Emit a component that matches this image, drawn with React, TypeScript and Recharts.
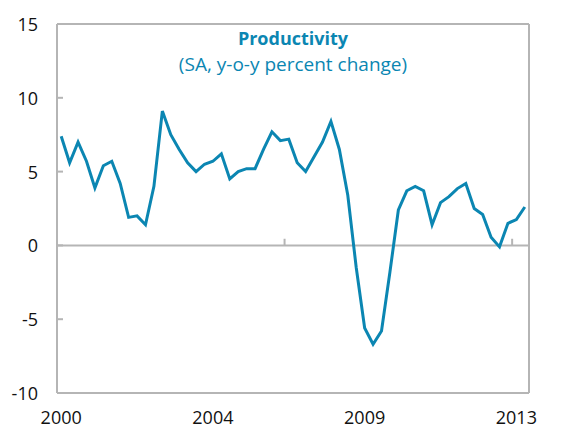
import React from 'react';
import { LineChart, Line, XAxis, YAxis, ReferenceLine } from 'recharts';

const years = [2000, 2001, 2002, 2003, 2004, 2005, 2006, 2007, 2008, 2009, 2010, 2011, 2012, 2013];
const quarters = years.flatMap((y) => [1, 2, 3, 4].map((q) => `${y}Q${q}`));

// SA, y-o-y percent change, 2000Q1..2013Q4
const productivity = [
  7.4, 5.6, 7.0, 5.7, 3.9, 5.4, 5.7, 4.2, 1.9, 2.0, 1.4, 4.0, 9.1, 7.5,
  6.5, 5.6, 5.0, 5.5, 5.7, 6.2, 4.5, 5.0, 5.2, 5.2, 6.5, 7.7, 7.1, 7.2,
  5.6, 5.0, 6.0, 7.0, 8.4, 6.5, 3.4, -1.5, -5.6, -6.7, -5.8, -1.8, 2.4, 3.7,
  4.0, 3.7, 1.4, 2.9, 3.3, 3.85, 4.2, 2.5, 2.1, 0.55, -0.1, 1.5, 1.75, 2.6,
];

const xTicks = ['2000Q1', '2004Q3', '2009Q1', '2013Q3'];
const yTicks = [-10, -5, 0, 5, 10, 15];
const zeroLineTicks = [27, 54]; // category boundaries marked on the zero line

const data = quarters.map((q, i) => ({ q, slot: i, value: productivity[i] }));

const BLUE = '#0b86b2';
const GRID = '#b5b5b5';
const FONT = '"Open Sans", "Noto Sans", sans-serif';

const LeftTick = (props: any) => {
  const { x, y, payload } = props;
  const axisX = x + 19;
  return (
    <g>
      <line x1={axisX} x2={axisX + 6} y1={y} y2={y} stroke={GRID} strokeWidth={2} />
      <text x={x} y={y} textAnchor="end" dominantBaseline="central" fontSize={18} fill="#111" fontFamily={FONT}>
        {payload.value}
      </text>
    </g>
  );
};

const RightTick = (props: any) => {
  const { x, y, payload } = props;
  const axisX = x - 20;
  return (
    <g>
      <line x1={axisX} x2={axisX - 6} y1={y} y2={y} stroke={GRID} strokeWidth={2} />
      <text x={x} y={y} textAnchor="start" dominantBaseline="central" fontSize={18} fill="#111" fontFamily={FONT}>
        {payload.value}
      </text>
    </g>
  );
};

const YearTick = (props: any) => {
  const { x, y, payload } = props;
  return (
    <text x={x} y={y + 16} textAnchor="middle" dominantBaseline="central" fontSize={18} fill="#111" fontFamily={FONT}>
      {String(payload.value).slice(0, 4)}
    </text>
  );
};

export default function App() {
  return (
    <div style={{ position: 'relative', width: 581, height: 430, marginTop: -8, marginLeft: -8, background: '#fff' }}>
      <LineChart
        width={581}
        height={430}
        data={data}
        margin={{ top: 24, right: 0, bottom: 0, left: 0 }}
      >
        <XAxis
          dataKey="q"
          ticks={xTicks}
          interval={0}
          tick={<YearTick />}
          tickLine={false}
          axisLine={{ stroke: GRID, strokeWidth: 2 }}
          padding={{ left: 4.2, right: 4.2 }}
          height={37}
        />
        <XAxis xAxisId="slots" dataKey="slot" type="number" domain={[0, 56]} hide />
        <YAxis
          yAxisId="left"
          domain={[-10, 15]}
          ticks={yTicks}
          width={57}
          tickLine={false}
          tickSize={6}
          tickMargin={13}
          tick={<LeftTick />}
          axisLine={{ stroke: GRID, strokeWidth: 2 }}
        />
        <YAxis
          yAxisId="right"
          orientation="right"
          domain={[-10, 15]}
          ticks={yTicks}
          width={52}
          tickLine={false}
          tickSize={6}
          tickMargin={14}
          tick={<RightTick />}
          axisLine={{ stroke: GRID, strokeWidth: 2 }}
        />
        <ReferenceLine yAxisId="left" y={15} stroke={GRID} strokeWidth={2} />
        <ReferenceLine yAxisId="left" y={0} stroke={GRID} strokeWidth={2} />
        {zeroLineTicks.map((s) => (
          <ReferenceLine
            key={s}
            xAxisId="slots"
            yAxisId="left"
            segment={[{ x: s, y: 0 }, { x: s, y: 0.45 }]}
            stroke={GRID}
            strokeWidth={2}
          />
        ))}
        <Line
          yAxisId="left"
          type="linear"
          dataKey="value"
          stroke={BLUE}
          strokeWidth={3}
          dot={false}
          isAnimationActive={false}
        />
      </LineChart>
      <div
        style={{
          position: 'absolute',
          left: 57,
          width: 472,
          top: 25,
          textAlign: 'center',
          color: BLUE,
          fontFamily: FONT,
          lineHeight: '26px',
        }}
      >
        <div style={{ fontSize: 18, fontWeight: 700 }}>Productivity</div>
        <div style={{ fontSize: 19 }}>(SA, y-o-y percent change)</div>
      </div>
    </div>
  );
}
